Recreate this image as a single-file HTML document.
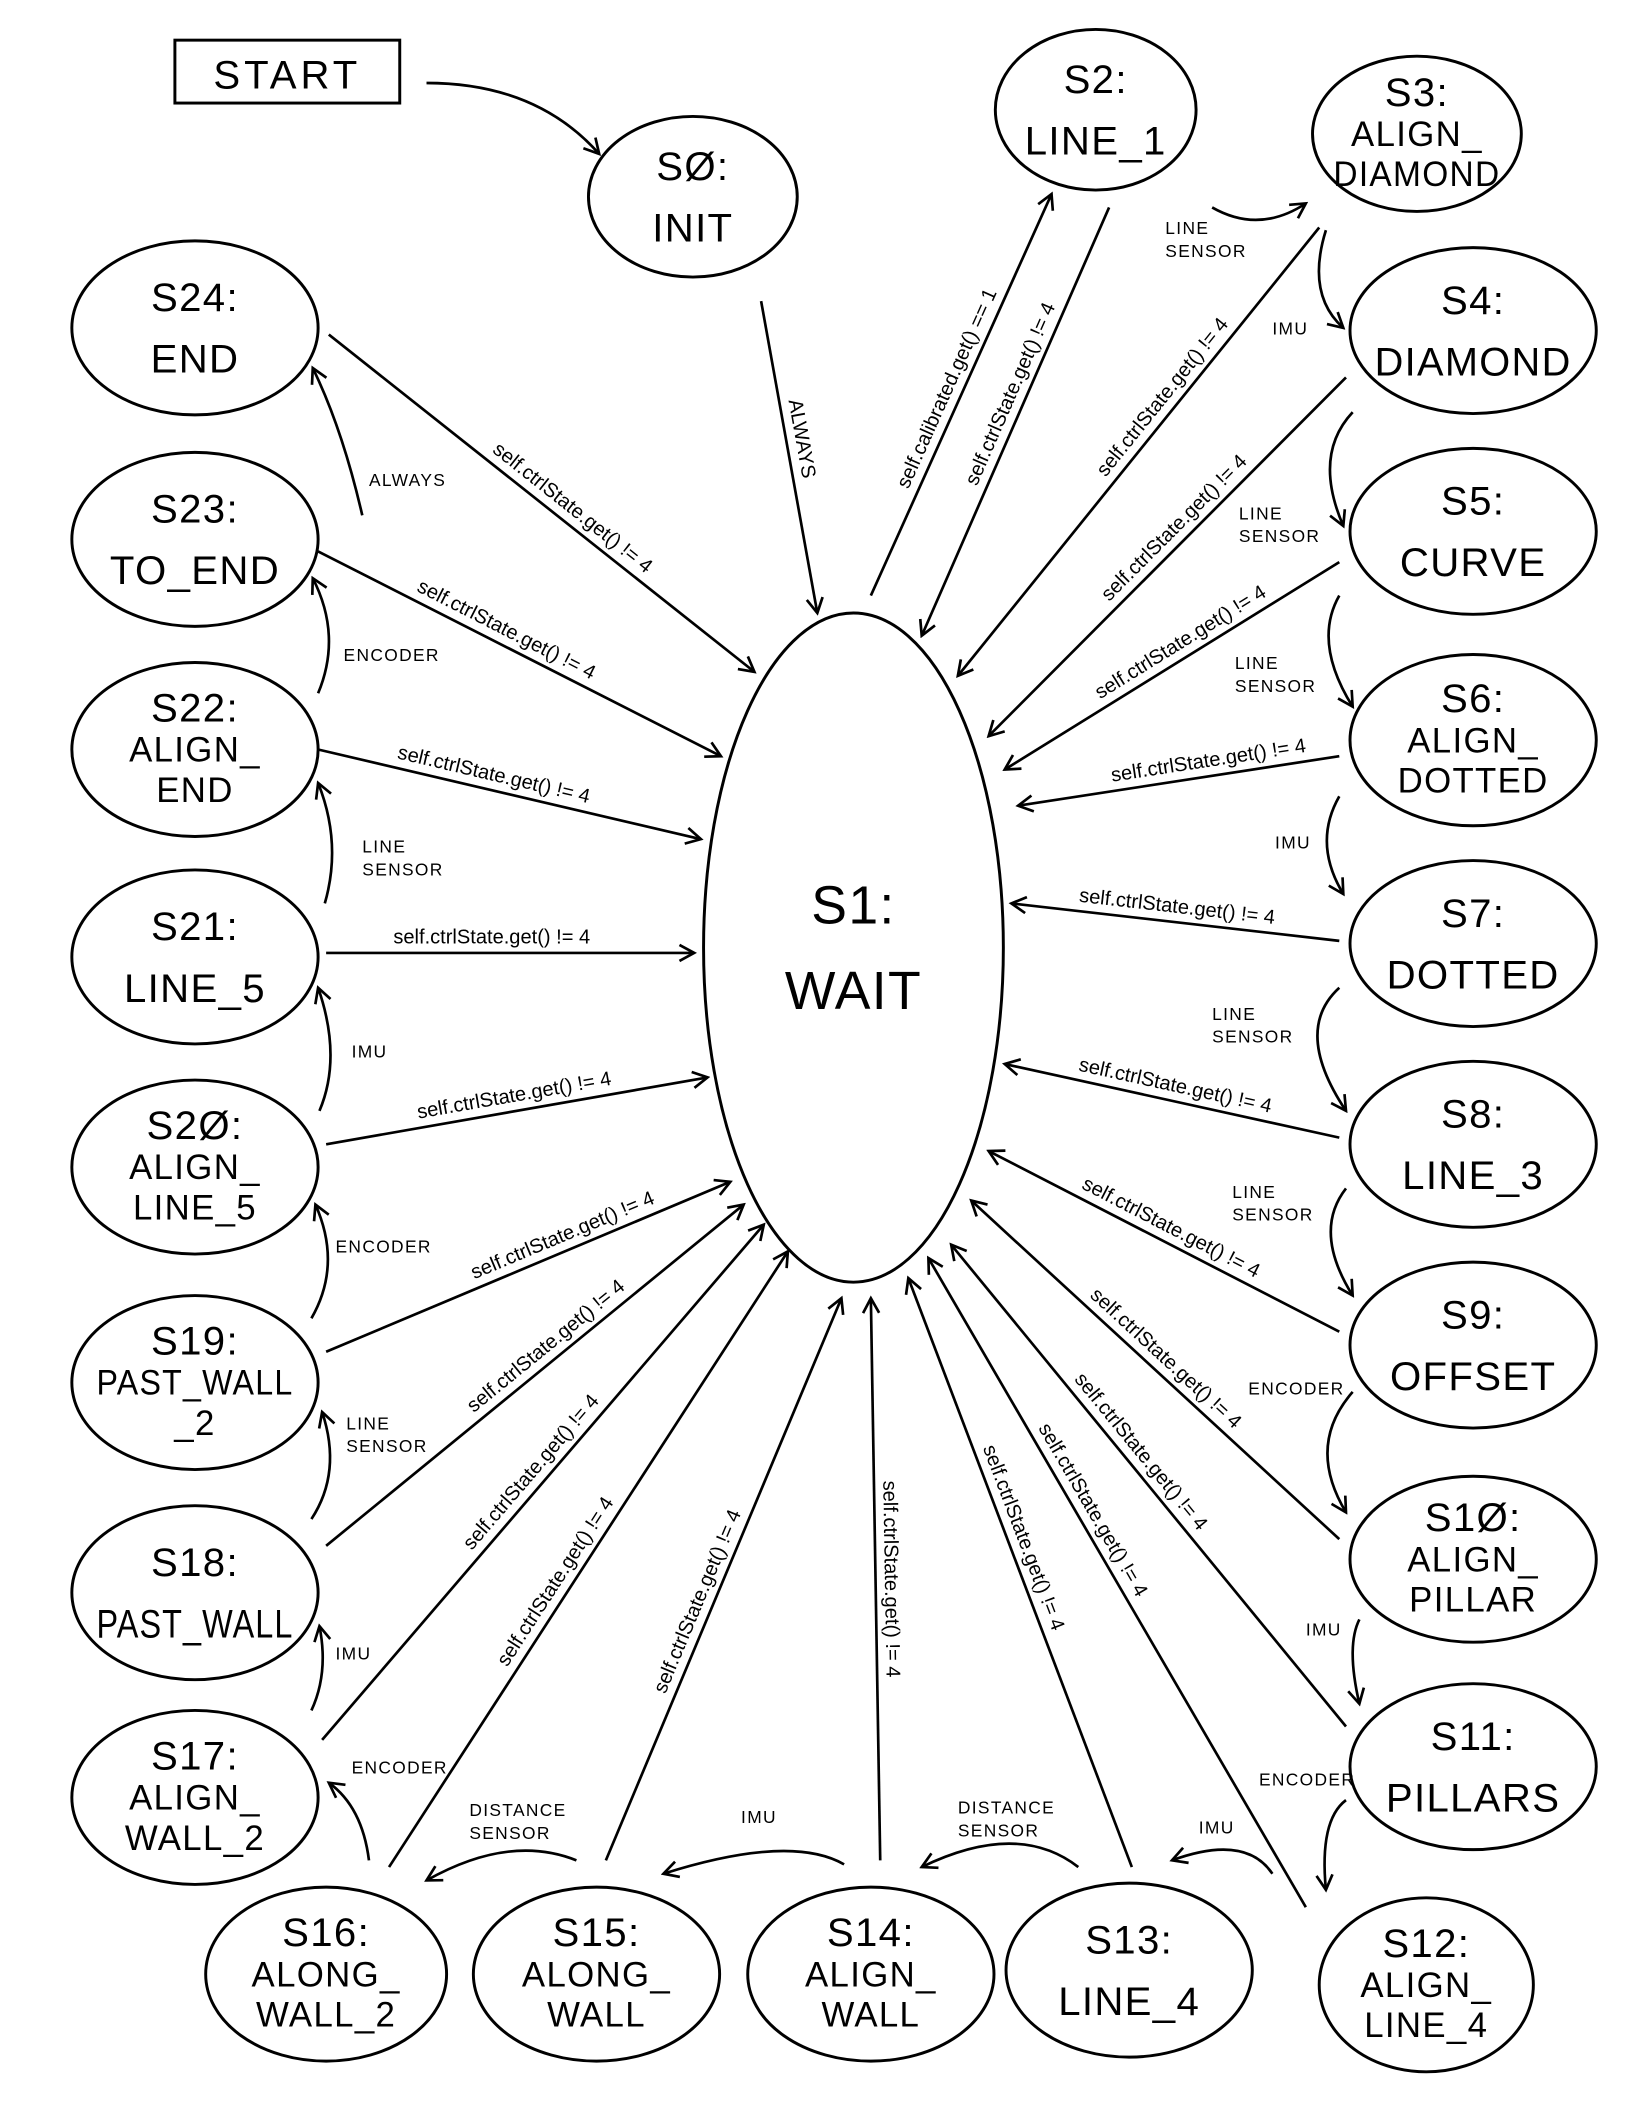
<!DOCTYPE html>
<html><head><meta charset="utf-8"><style>
html,body{margin:0;padding:0;background:#fff}
svg{display:block}
text{font-family:"Liberation Sans",sans-serif;fill:#000}
</style></head><body>
<svg id="fsm" width="1640" height="2120" viewBox="0 0 1224 1584" xmlns="http://www.w3.org/2000/svg">
<defs><marker id="ah" markerWidth="14" markerHeight="14" refX="12" refY="7" orient="auto" markerUnits="userSpaceOnUse"><path d="M1,1 L12,7 L1,13" fill="none" stroke="#000" stroke-width="2"/></marker></defs>
<rect x="130" y="30" width="168" height="47" fill="none" stroke="#000" stroke-width="2.2"/>
<text x="214" y="66" font-size="30" text-anchor="middle" letter-spacing="3">START</text>
<g id="g"></g>
</svg>
<script>
const stateNames=["S0","S1","S2","S3","S4","S5","S6","S7","S8","S9","S10","S11","S12","S13","S14","S15","S16","S17","S18","S19","S20","S21","S22","S23","S24"];
const stateLabels=[["SØ:","INIT"],["S1:","WAIT"],["S2:","LINE_1"],["S3:","ALIGN_","DIAMOND"],["S4:","DIAMOND"],["S5:","CURVE"],["S6:","ALIGN_","DOTTED"],["S7:","DOTTED"],["S8:","LINE_3"],["S9:","OFFSET"],["S1Ø:","ALIGN_","PILLAR"],["S11:","PILLARS"],["S12:","ALIGN_","LINE_4"],["S13:","LINE_4"],["S14:","ALIGN_","WALL"],["S15:","ALONG_","WALL"],["S16:","ALONG_","WALL_2"],["S17:","ALIGN_","WALL_2"],["S18:","PAST_WALL"],["S19:","PAST_WALL","_2"],["S2Ø:","ALIGN_","LINE_5"],["S21:","LINE_5"],["S22:","ALIGN_","END"],["S23:","TO_END"],["S24:","END"]];
const geo=[[517,147,78,60],[637,708,112,250],[818,82,75,60],[1058,100,78,58],[1100,247,92,62],[1100,397,92,62],[1100,553,92,64],[1100,705,92,62],[1100,855,92,62],[1100,1005,92,62],[1100,1165,92,62],[1100,1320,92,62],[1065,1483,80,65],[843,1472,92,65],[650,1475,92,65],[445,1475,92,65],[243,1475,90,65],[145,1343,92,65],[145,1190,92,65],[145,1033,92,65],[145,872,92,65],[145,715,92,65],[145,560,92,65],[145,403,92,65],[145,245,92,65]];
const NE="self.ctrlState.get() != 4";
const lines=[[568,225,610,458,"ALWAYS",0.45],[650,445,785,145,"self.calibrated.get() == 1",0.5],[828,155,688,475,NE,0.45],[985,170,715,505,NE,0.4],[1005,282,738,550,NE,0.45],[1000,420,750,575,NE,0.45],[1000,565,760,602,NE,0.4],[1000,703,755,675,NE,0.5],[1000,850,750,795,NE,0.5],[1000,995,738,860,NE,0.5],[1000,1150,725,897,NE,0.5],[1005,1290,710,930,NE,0.55],[975,1425,693,940,NE,0.6],[845,1395,678,955,NE,0.55],[657,1390,650,970,NE,0.5],[452,1390,628,970,NE,0.45],[290,1395,588,935,NE,0.45],[240,1300,570,915,NE,0.5],[243,1155,555,900,NE,0.55],[243,1010,545,883,NE,0.6],[243,855,528,805,NE,0.5],[243,712,518,712,NE,0.45],[237,560,523,627,NE,0.45],[237,412,538,565,NE,0.45],[245,250,563,502,NE,0.55]];
const curves=[[318,62,400,62,447,115,"",0,0],[905,155,940,175,975,152,"LINE|SENSOR",870,175],[990,172,975,220,1003,245,"IMU",950,250],[1010,308,980,340,1003,393,"LINE|SENSOR",925,388],[1000,445,980,480,1010,528,"LINE|SENSOR",922,500],[1000,595,980,630,1003,668,"IMU",952,634],[1000,738,965,770,1005,830,"LINE|SENSOR",905,762],[1005,888,980,920,1010,968,"LINE|SENSOR",920,895],[1010,1040,975,1080,1005,1130,"ENCODER",932,1042],[1015,1210,1005,1230,1015,1273,"IMU",975,1222],[1005,1345,985,1360,990,1412,"ENCODER",940,1334],[950,1400,930,1370,875,1390,"IMU",895,1370],[805,1395,760,1360,688,1395,"DISTANCE|SENSOR",715,1355],[630,1393,590,1370,495,1400,"IMU",553,1362],[430,1390,380,1370,318,1405,"DISTANCE|SENSOR",350,1357],[275,1390,270,1350,245,1332,"ENCODER",262,1325],[232,1278,245,1250,238,1215,"IMU",250,1240],[232,1135,255,1100,240,1055,"LINE|SENSOR",258,1068],[232,985,255,945,235,900,"ENCODER",250,936],[238,830,255,790,237,738,"IMU",262,790],[242,675,255,630,237,585,"LINE|SENSOR",270,637],[237,518,255,475,233,432,"ENCODER",256,494],[270,385,255,320,233,275,"ALWAYS",275,363]];
const g=document.getElementById('g');
const NS="http://www.w3.org/2000/svg";
function mk(t,a){const e=document.createElementNS(NS,t);for(const k in a)e.setAttribute(k,a[k]);g.appendChild(e);return e;}
geo.forEach((s,i)=>{
  const e=mk('ellipse',{cx:s[0],cy:s[1],rx:s[2],ry:s[3],fill:'none',stroke:'#000','stroke-width':2.2});
  
  
  const L=stateLabels[i];const big=i===1;const fs=big?40:(L.length>2?26:30);
  const lh=big?64:(L.length>2?30:46);
  const y0=s[1]-(L.length-1)*lh/2+fs*0.35;
  L.forEach((t,j)=>{
    const tx=mk('text',{x:s[0],y:y0+j*lh,'font-size':(j===0&&!big)?30:fs,'text-anchor':'middle','letter-spacing':1});
    tx.textContent=t;
    
    
    const maxW=s[2]*1.6;
    const w=tx.getComputedTextLength();
    if(w>maxW){tx.setAttribute('textLength',maxW);tx.setAttribute('lengthAdjust','spacingAndGlyphs');}
  });
});
lines.forEach((l,i)=>{
  const p=mk('line',{x1:l[0],y1:l[1],x2:l[2],y2:l[3],stroke:'#000','stroke-width':2,'marker-end':'url(#ah)'});
  
  
  let a=Math.atan2(l[3]-l[1],l[2]-l[0])*180/Math.PI;
  if(a>90)a-=180;if(a<-90)a+=180;
  const mx=l[0]+(l[2]-l[0])*l[5],my=l[1]+(l[3]-l[1])*l[5];
  const t=mk('text',{x:0,y:-7,'font-size':15,'text-anchor':'middle',transform:`translate(${mx},${my}) rotate(${a})`});
  t.textContent=l[4];
  
  
});
curves.forEach(c=>{
  const p=mk('path',{d:`M${c[0]},${c[1]} Q${c[2]},${c[3]} ${c[4]},${c[5]}`,fill:'none',stroke:'#000','stroke-width':2,'marker-end':'url(#ah)'});
  
  
  if(c[6]){c[6].split('|').forEach((w,j)=>{
    const t=mk('text',{x:c[7],y:c[8]+j*17,'font-size':13,'letter-spacing':1});
    t.textContent=w;
    
    
  });}
});
</script>
</body></html>
